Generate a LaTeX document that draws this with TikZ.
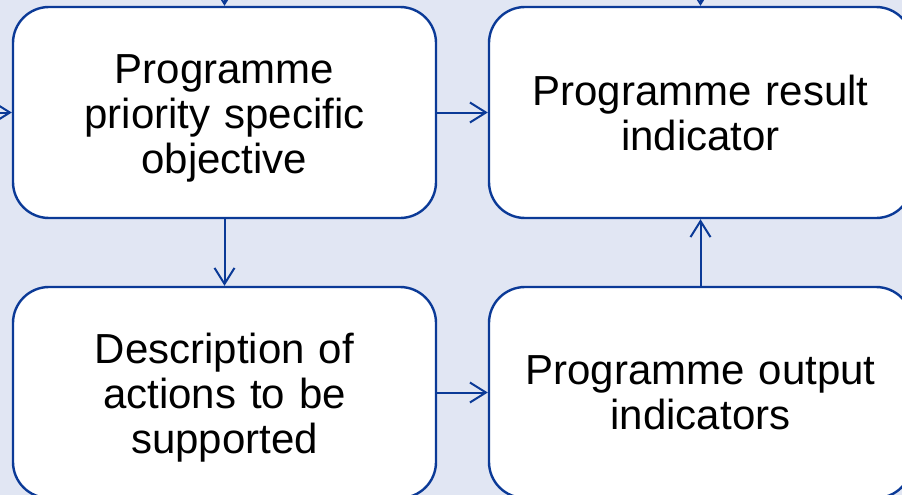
\documentclass[tikz,border=0pt]{standalone}
\usepackage{fontspec}
\setmainfont{Liberation Sans}
\usetikzlibrary{arrows.meta}
\definecolor{frameblue}{HTML}{0B3A97}
\definecolor{backlav}{HTML}{E1E6F3}
\tikzset{
  stagebox/.style={rectangle, draw=frameblue, line width=2.4pt, fill=white,
    rounded corners=36pt, minimum width=423pt, minimum height=211pt,
    text width=410pt, align=center, font=\fontsize{42}{45}\selectfont},
  lowtext/.style={execute at begin node={\rule{0pt}{40.5pt}}},
  flow/.style={draw=frameblue, line width=2pt, -{Straight Barb[length=16pt,width=20pt,line width=2pt]}}
}
\begin{document}
\begin{tikzpicture}[x=1pt,y=-1pt]
% Background
\fill[backlav] (0,0) rectangle (902,495);
\useasboundingbox (0,0) rectangle (902,495);

% Boxes
\node[stagebox, lowtext] (objective) at (224.5,112.5) {Programme\\priority specific\\objective};
\node[stagebox] (result) at (700.5,112.5) {Programme result\\indicator};
\node[stagebox, lowtext] (actions) at (224.5,392.5) {Description of\\actions to be\\supported};
\node[stagebox] (output) at (700.5,392.5) {Programme output\\indicators};

% Incoming from outside
\coordinate (intopA) at (224.5,0);
\coordinate (intopB) at (700.5,0);
\coordinate (inleft) at (0,112.5);
\draw[flow] (intopA) -- (objective.north);
\draw[flow] (intopB) -- (result.north);
\draw[flow] (inleft) -- (objective.west);

% Arrows
\draw[flow] (objective.east) -- (result.west);
\draw[flow] (objective.south) -- (actions.north);
\draw[flow] (actions.east) -- (output.west);
\draw[flow] (output.north) -- (result.south);

\end{tikzpicture}
\end{document}
